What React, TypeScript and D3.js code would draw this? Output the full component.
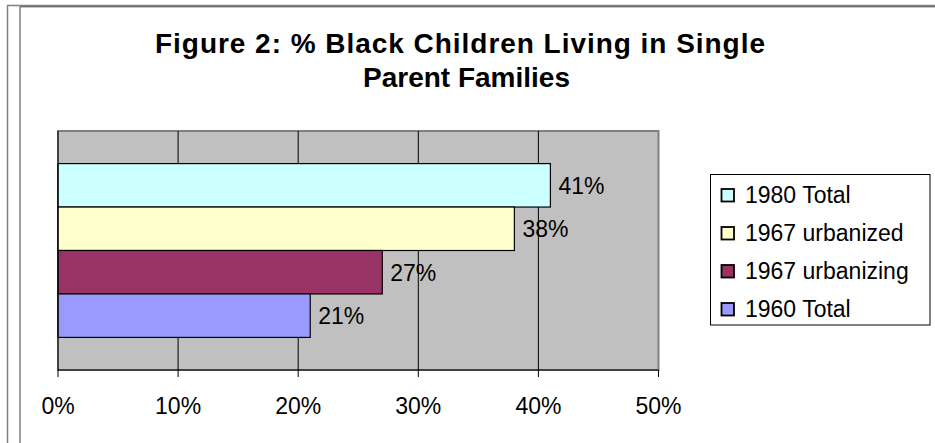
import React from "react";
import * as d3 from "d3";

const seriesNames = ["1980 Total", "1967 urbanized", "1967 urbanizing", "1960 Total"];
const seriesValues = [41, 38, 27, 21];
const seriesColors = ["#CCFFFF", "#FFFFCC", "#993366", "#9999FF"];
const xTicks = [0, 10, 20, 30, 40, 50];
const titleLines = ["Figure 2: % Black Children Living in Single", "Parent Families"];

const W = 935;
const H = 443;
const FONT = "'Liberation Sans', Arial, Helvetica, sans-serif";

export default function App() {
  const plot = { left: 58, right: 658.5, top: 131, bottom: 370 };
  const x = d3.scaleLinear().domain([0, 50]).range([plot.left, plot.right]);
  const y = d3
    .scaleBand<string>()
    .domain(seriesNames)
    .range([plot.top, plot.bottom])
    .paddingInner(0)
    .paddingOuter(0.75);

  const legend = { x: 710.5, y: 174.5, w: 219.5, h: 150.5 };
  const legendRowY = (i: number) => 195 + i * 38;

  return (
    <svg
      width={W}
      height={H}
      style={{ position: "absolute", left: 0, top: 0, background: "#fff" }}
      fontFamily={FONT}
    >
      <rect x={0} y={0} width={W} height={H} fill="#fff" />
      {/* outer frame */}
      <line x1={7.5} y1={5.5} x2={7.5} y2={H} stroke="#808080" strokeWidth={1.5} />
      <line x1={7} y1={5.5} x2={W} y2={5.5} stroke="#808080" strokeWidth={1.5} />
      <line x1={20} y1={6.5} x2={20} y2={H} stroke="#808080" strokeWidth={1.5} />
      <line x1={20} y1={6.8} x2={W} y2={6.8} stroke="#404040" strokeWidth={1} />

      {/* title */}
      <text
        x={155}
        y={53}
        fontSize={28}
        fontWeight="bold"
        fill="#000"
        textLength={610}
        lengthAdjust="spacing"
      >
        {titleLines[0]}
      </text>
      <text x={363} y={87} fontSize={28} fontWeight="bold" fill="#000">
        {titleLines[1]}
      </text>

      {/* plot area */}
      <rect
        x={plot.left}
        y={plot.top}
        width={plot.right - plot.left}
        height={plot.bottom - plot.top}
        fill="#C0C0C0"
        stroke="#808080"
        strokeWidth={2}
      />
      {xTicks.slice(1, -1).map((t) => (
        <line
          key={"g" + t}
          x1={x(t)}
          x2={x(t)}
          y1={plot.top}
          y2={plot.bottom}
          stroke="#000"
          strokeWidth={1}
        />
      ))}

      {/* bars */}
      {seriesNames.map((s, i) => (
        <rect
          key={s}
          x={x(0)}
          y={y(s)!}
          width={x(seriesValues[i]) - x(0)}
          height={y.bandwidth()}
          fill={seriesColors[i]}
          stroke="#000"
          strokeWidth={1.2}
        />
      ))}

      {/* data labels */}
      {seriesNames.map((s, i) => (
        <text
          key={"l" + s}
          x={x(seriesValues[i]) + 8}
          y={y(s)! + y.bandwidth() / 2}
          dy="0.36em"
          fontSize={23}
          fill="#000"
        >
          {seriesValues[i]}%
        </text>
      ))}

      {/* axes */}
      <line x1={plot.left} x2={plot.left} y1={plot.top} y2={plot.bottom} stroke="#000" strokeWidth={1} />
      <line x1={plot.left} x2={plot.right} y1={plot.bottom} y2={plot.bottom} stroke="#000" strokeWidth={1} />
      {xTicks.map((t) => (
        <g key={"t" + t}>
          <line x1={x(t)} x2={x(t)} y1={plot.bottom} y2={plot.bottom + 7} stroke="#000" strokeWidth={1} />
          <text x={x(t)} y={414} textAnchor="middle" fontSize={23} fill="#000">
            {t}%
          </text>
        </g>
      ))}

      {/* legend */}
      <rect
        x={legend.x}
        y={legend.y}
        width={legend.w}
        height={legend.h}
        fill="#fff"
        stroke="#000"
        strokeWidth={1}
      />
      {seriesNames.map((s, i) => (
        <g key={"lg" + s}>
          <rect
            x={721.5}
            y={legendRowY(i) - 6}
            width={12.5}
            height={12.5}
            fill={seriesColors[i]}
            stroke="#000"
            strokeWidth={1.8}
          />
          <text x={745} y={legendRowY(i)} dy="0.36em" fontSize={23} fill="#000">
            {s}
          </text>
        </g>
      ))}
    </svg>
  );
}
